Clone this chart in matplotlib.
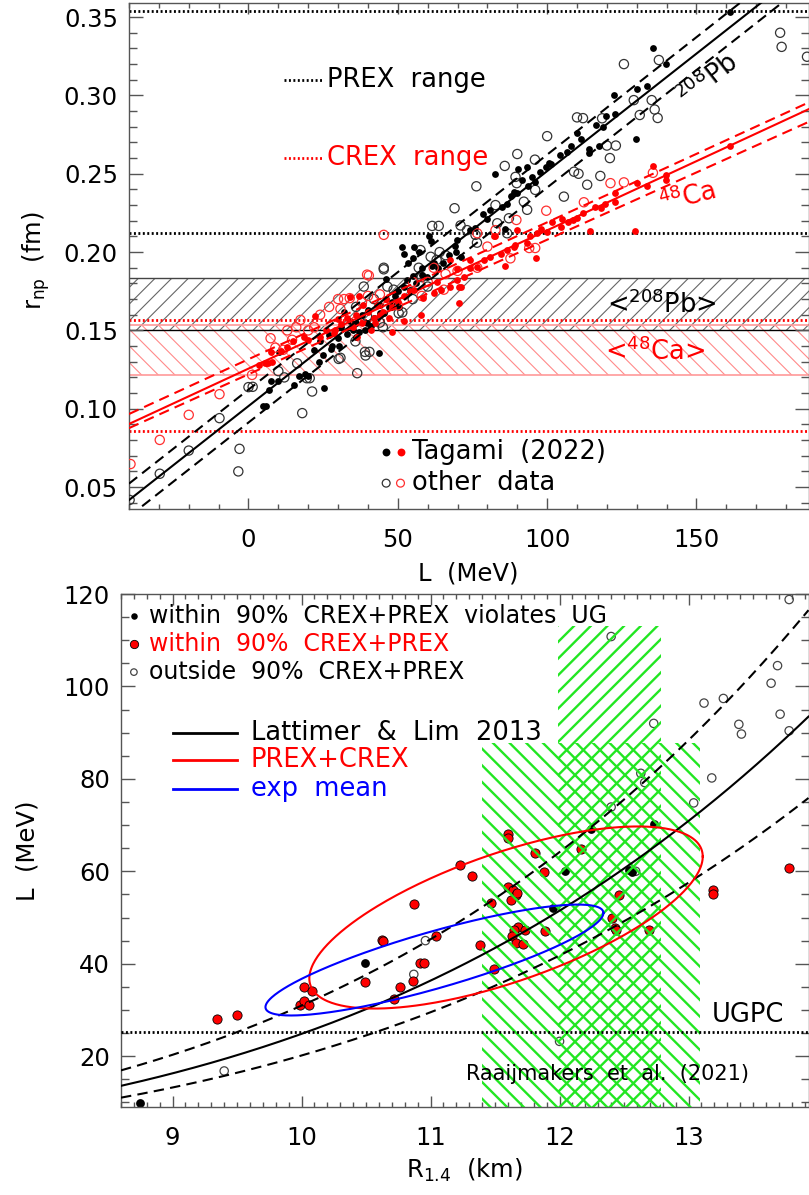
import numpy as np
import matplotlib
matplotlib.use('Agg')
import matplotlib.pyplot as plt
from matplotlib.patches import Rectangle
from matplotlib.ticker import MultipleLocator

plt.rcParams['font.family'] = ['DejaVu Sans']
plt.rcParams['mathtext.fontset'] = 'dejavusans'

# ---------------- upper panel: r_np vs L ----------------
# (L [MeV], r_np [fm])
pb_tagami = [
    (161.1, 0.353), (135.4, 0.330), (139.8, 0.320), (130.1, 0.304), (133.3, 0.306),
    (122.5, 0.300), (119.8, 0.287), (122.6, 0.288), (116.2, 0.281), (118.6, 0.280),
    (117.3, 0.268), (111.2, 0.272), (108.0, 0.268), (114.0, 0.266), (114.0, 0.263),
    (129.6, 0.272), (104.2, 0.262), (101.3, 0.256), (99.5, 0.254), (97.5, 0.251),
    (94.8, 0.248), (93.3, 0.254), (90.2, 0.253), (82.7, 0.250), (91.5, 0.246),
    (93.5, 0.242), (90.0, 0.238), (88.0, 0.236), (86.6, 0.231), (85.0, 0.229),
    (81.0, 0.227), (79.7, 0.221), (78.5, 0.224), (76.0, 0.2155), (74.3, 0.214),
    (69.9, 0.208), (71.0, 0.197), (86.0, 0.215), (60.4, 0.210), (61.0, 0.207),
    (55.4, 0.2035), (51.5, 0.2035), (52.0, 0.199), (53.5, 0.193), (55.0, 0.196),
    (62.0, 0.193), (65.0, 0.193), (63.5, 0.190), (59.8, 0.184), (69.3, 0.204),
    (69.5, 0.200), (67.0, 0.198), (61.5, 0.191), (58.1, 0.1855), (54.2, 0.176),
    (50.3, 0.1652), (44.2, 0.161), (39.7, 0.1546), (88.8, 0.2386), (96.0, 0.245),
    (100.5, 0.2567), (106.5, 0.264), (110.0, 0.276),
    (38.0, 0.160), (40.0, 0.163), (42.0, 0.158), (44.0, 0.166), (45.5, 0.161),
    (46.0, 0.170), (47.0, 0.165), (48.0, 0.168), (49.0, 0.172), (50.0, 0.175),
    (41.0, 0.153), (39.0, 0.150), (36.0, 0.155), (35.0, 0.150), (33.0, 0.148),
    (34.0, 0.156), (30.0, 0.145), (31.0, 0.152), (28.0, 0.140), (27.5, 0.138),
    (30.2, 0.140), (21.9, 0.1376), (23.5, 0.130), (25.0, 0.1345), (25.2, 0.1135),
    (15.2, 0.1152), (17.0, 0.121), (19.0, 0.122), (20.0, 0.121), (6.0, 0.1015),
    (5.0, 0.102), (7.0, 0.112), (7.4, 0.118), (10.0, 0.118), (10.1, 0.1364),
    (43.6, 0.1355), (36.0, 0.146), (37.0, 0.149), (52.0, 0.178), (53.0, 0.182),
    (55.0, 0.185), (56.0, 0.180), (58.0, 0.190), (57.0, 0.200), (46.0, 0.183),
    (27.0, 0.147), (32.0, 0.162), (24.0, 0.143),
]
pb_other = [
    (178.0, 0.340), (178.5, 0.331), (187.0, 0.3247), (137.4, 0.3226), (125.7, 0.320),
    (135.0, 0.297), (136.0, 0.291), (137.0, 0.2856), (131.0, 0.2875), (129.0, 0.297),
    (118.4, 0.2854), (110.0, 0.286), (112.0, 0.2855), (100.0, 0.274), (90.0, 0.2626),
    (85.8, 0.255), (95.9, 0.259), (89.4, 0.248), (89.8, 0.244), (109.0, 0.2513),
    (110.5, 0.250), (117.8, 0.2486), (113.4, 0.243), (120.0, 0.268), (123.0, 0.268),
    (121.0, 0.260), (105.6, 0.2354), (76.3, 0.242), (69.0, 0.228), (61.5, 0.2167),
    (63.7, 0.2167), (96.0, 0.2397), (92.2, 0.2322), (93.3, 0.227), (87.2, 0.2216),
    (83.3, 0.2184), (76.0, 0.211), (76.5, 0.206), (86.6, 0.212), (57.6, 0.2013),
    (82.7, 0.230), (71.0, 0.217), (73.2, 0.214), (64.0, 0.200), (66.0, 0.198),
    (61.0, 0.197), (63.0, 0.195), (57.0, 0.190), (58.0, 0.184), (45.3, 0.190),
    (46.5, 0.178), (48.6, 0.176), (50.3, 0.161), (44.0, 0.155), (45.0, 0.152),
    (39.7, 0.159), (38.6, 0.178), (35.8, 0.143), (39.2, 0.134), (30.8, 0.1325),
    (16.3, 0.129), (-39.8, 0.0418), (-29.7, 0.0585), (-20.0, 0.0733), (-9.7, 0.094),
    (-3.0, 0.0744), (-3.4, 0.060), (0.0, 0.1138), (1.4, 0.114), (18.0, 0.0972),
    (21.3, 0.111), (36.4, 0.1227), (30.2, 0.1318), (39.0, 0.1363), (40.5, 0.1363),
    (51.5, 0.1615), (10.0, 0.124), (12.0, 0.120), (19.5, 0.1195), (20.5, 0.1195),
    (45.3, 0.189), (42.0, 0.170), (36.0, 0.165), (55.0, 0.170), (60.0, 0.178),
]
ca_tagami = [
    (161.1, 0.268), (135.4, 0.255), (139.8, 0.249), (139.8, 0.246), (133.3, 0.2424),
    (130.1, 0.2439), (122.6, 0.238), (122.6, 0.232), (119.5, 0.231), (118.0, 0.228),
    (116.0, 0.229), (114.3, 0.2136), (129.3, 0.2136), (112.0, 0.2248), (108.8, 0.2205),
    (107.0, 0.2194), (104.5, 0.216), (101.7, 0.2194), (100.0, 0.213), (96.7, 0.212),
    (94.4, 0.210), (93.3, 0.2056), (90.0, 0.214), (88.8, 0.2035), (86.6, 0.2013),
    (84.4, 0.199), (82.7, 0.210), (82.1, 0.2103), (81.0, 0.197), (78.8, 0.195),
    (76.6, 0.1907), (74.3, 0.190), (74.3, 0.195), (72.1, 0.1843), (69.9, 0.182),
    (69.9, 0.189), (67.6, 0.178), (67.6, 0.195), (64.3, 0.176), (63.2, 0.181),
    (62.0, 0.1737), (70.4, 0.178), (71.0, 0.178), (70.4, 0.1674), (55.4, 0.176),
    (58.6, 0.171), (57.6, 0.160), (52.0, 0.1563), (96.4, 0.196), (86.0, 0.191),
    (89.4, 0.2045), (110.0, 0.222), (105.0, 0.221), (98.0, 0.215),
    (7.4, 0.1364), (6.7, 0.1294), (5.5, 0.129), (8.0, 0.130), (12.9, 0.1397),
    (18.5, 0.146), (22.4, 0.159), (28.6, 0.1482), (34.1, 0.1716), (31.0, 0.154),
    (33.0, 0.158), (35.0, 0.152), (36.0, 0.160), (38.0, 0.155), (40.0, 0.162),
    (42.0, 0.158), (43.0, 0.166), (45.0, 0.162), (46.0, 0.170), (48.0, 0.165),
    (50.0, 0.168), (52.0, 0.172), (44.0, 0.160), (41.0, 0.150), (38.5, 0.166),
    (36.5, 0.146), (29.0, 0.150), (26.0, 0.150), (24.0, 0.146), (20.0, 0.144),
    (15.0, 0.143), (11.0, 0.137), (48.0, 0.149), (54.0, 0.175), (37.0, 0.172),
    (3.5, 0.128), (30.0, 0.157), (42.5, 0.155), (47.0, 0.158),
]
ca_other = [
    (-39.5, 0.0647), (-29.7, 0.0801), (-20.0, 0.0961), (-9.7, 0.1093), (1.2, 0.1216),
    (11.6, 0.1376), (9.0, 0.139), (14.6, 0.144), (7.4, 0.145), (13.0, 0.150),
    (17.4, 0.1567), (24.0, 0.160), (27.0, 0.165), (30.0, 0.170), (32.0, 0.170),
    (30.8, 0.1637), (33.9, 0.1706), (39.7, 0.1856), (40.0, 0.172), (38.0, 0.168),
    (44.0, 0.173), (46.0, 0.165), (36.0, 0.156), (20.0, 0.150), (16.0, 0.152),
    (22.0, 0.152), (135.4, 0.2506), (125.7, 0.2445), (121.2, 0.244), (112.3, 0.2318),
    (99.7, 0.2264), (89.7, 0.2205), (82.7, 0.214), (76.6, 0.212), (96.0, 0.2026),
    (94.0, 0.2026), (87.7, 0.196), (76.6, 0.190), (80.0, 0.2035), (65.4, 0.176),
    (60.0, 0.181), (55.0, 0.181), (70.0, 0.188), (58.0, 0.172), (50.0, 0.166),
    (62.0, 0.190), (66.0, 0.186), (45.3, 0.211), (40.3, 0.185),
]

# linear fits r_np = a + b*L  (central, upper, lower)
pb_fit = {'mid': (0.1017, 0.00150), 'up': (0.1122, 0.00150), 'lo': (0.0912, 0.00150)}
ca_fit = {'mid': (0.1256, 0.000883), 'up': (0.1316, 0.000874), 'lo': (0.1220, 0.000859)}

prex_range = (0.212, 0.354)
crex_range = (0.0855, 0.1565)
pb_mean_band = (0.150, 0.1834)
ca_mean_band = (0.1217, 0.1534)

# ---------------- lower panel: L vs R_1.4 ----------------
# (R_1.4 [km], L [MeV])
violates_ug = [(8.747, 9.9), (10.49, 40.1), (12.24, 69.2), (12.73, 70.3), (12.04, 60.0),
               (12.54, 60.3), (12.56, 59.8), (11.95, 52.0)]
within_90 = [
    (9.347, 28.0), (9.497, 29.0), (9.985, 31.0), (10.02, 35.0), (10.02, 32.0),
    (10.06, 31.0), (10.08, 34.0), (10.49, 36.0), (10.62, 45.2), (10.87, 53.0),
    (10.86, 36.3), (10.76, 34.9), (10.72, 32.4), (10.92, 40.1), (10.95, 40.1),
    (11.60, 68.1), (11.60, 67.2), (11.23, 61.4), (11.32, 59.0), (11.81, 64.0),
    (12.17, 64.8), (11.88, 59.8), (11.60, 56.6), (11.64, 55.9), (11.66, 54.8),
    (11.62, 53.8), (11.67, 55.3), (11.47, 53.1), (12.46, 54.9), (12.41, 50.0),
    (12.43, 47.8), (12.44, 47.3), (12.69, 47.3), (13.19, 56.0), (13.19, 55.1),
    (11.68, 48.0), (11.65, 47.3), (11.73, 47.3), (11.63, 45.9), (11.66, 44.5),
    (11.72, 44.3), (11.89, 47.1), (11.38, 44.0), (11.04, 45.9), (10.63, 45.0),
    (11.49, 38.9), (13.78, 60.7),
]
outside_90 = [
    (9.40, 16.8), (10.87, 37.7), (10.96, 45.0), (12.00, 23.2), (12.40, 110.8),
    (13.78, 118.8), (13.69, 104.5), (13.64, 100.7), (13.71, 94.0), (13.78, 90.4),
    (13.39, 91.8), (13.41, 89.7), (13.27, 97.4), (13.12, 96.4), (12.73, 92.0),
    (13.18, 80.2), (13.04, 74.8), (12.63, 81.2), (12.66, 79.2), (12.40, 73.9),
    (12.59, 60.0),
]

# Lattimer & Lim: R_1.4 = C * L^(1/4)
ll_coef = {'mid': 4.48, 'up': 4.24, 'lo': 4.72}
# ellipses: R = cx + rx cos t, L = cy + ry sin(t + phi)
ell_prexcrex = dict(cx=11.585, rx=1.525, cy=50.0, ry=19.7, phi=42.0)
ell_expmean = dict(cx=11.03, rx=1.31, cy=40.8, ry=12.0, phi=58.0)
ugpc_L = 25.3
raaij_wide = (11.40, 13.09, 87.8)    # R min, R max, L top
raaij_narrow = (11.99, 12.79, 113.1)

dotted = (0, (0.7, 0.9))
dashed = (0, (5, 3))
tick_fs = 17.5
label_fs = 18.5
green = '#22e622'


def style_axes(ax):
    for s in ax.spines.values():
        s.set_color('#555555')
        s.set_linewidth(1.0)
    ax.tick_params(which='both', direction='in', top=True, right=True,
                   color='#555555', width=1.0, labelsize=tick_fs)
    ax.tick_params(axis='y', which='major', length=10, pad=8)
    ax.tick_params(axis='y', which='minor', length=5.5)
    ax.tick_params(axis='x', which='major', length=8, pad=14)
    ax.tick_params(axis='x', which='minor', length=3.8)


fig = plt.figure(figsize=(8.09, 11.95), dpi=100)
ax1 = fig.add_axes([129 / 809, 1 - 509 / 1195, 679.5 / 809, 506 / 1195])
ax2 = fig.add_axes([121 / 809, 1 - 1107 / 1195, 687.5 / 809, 513 / 1195])

# ---- upper panel ----
ax1.set_xlim(-40, 187.5)
ax1.set_ylim(0.036, 0.359)
ax1.xaxis.set_major_locator(MultipleLocator(50))
ax1.xaxis.set_minor_locator(MultipleLocator(10))
ax1.yaxis.set_major_locator(MultipleLocator(0.05))
ax1.yaxis.set_minor_locator(MultipleLocator(0.01))
ax1.yaxis.set_major_formatter(plt.FormatStrFormatter('%.2f'))
style_axes(ax1)

plt.rcParams['hatch.linewidth'] = 0.8
band_pb = ax1.axhspan(*pb_mean_band, facecolor='none', edgecolor='#666666', hatch='//',
                      lw=0, zorder=1)
band_ca = ax1.axhspan(*ca_mean_band, facecolor='none', edgecolor='#ff8a8a', hatch='\\\\',
                      lw=0, zorder=1)
for p in (band_pb, band_ca):
    if hasattr(p, 'set_hatch_linewidth'):
        p.set_hatch_linewidth(0.8)
ax1.axhline(pb_mean_band[1], color='#444444', lw=1.0, zorder=1)
ax1.axhline(pb_mean_band[0], color='black', lw=1.0, zorder=1)
for y in ca_mean_band:
    ax1.axhline(y, color='#ff9a9a', lw=1.2, zorder=1)
for y in prex_range:
    ax1.axhline(y, color='black', lw=2.0, ls=dotted, zorder=2)
for y in crex_range:
    ax1.axhline(y, color='red', lw=2.0, ls=dotted, zorder=2)

pbt = np.array(pb_tagami)
pbo = np.array(pb_other)
cat = np.array(ca_tagami)
cao = np.array(ca_other)
ax1.scatter(pbo[:, 0], pbo[:, 1], s=44, facecolors='none', edgecolors='#333333',
            linewidths=0.9, zorder=3)
ax1.scatter(pbt[:, 0], pbt[:, 1], s=24, color='black', lw=0, zorder=3)
ax1.scatter(cao[:, 0], cao[:, 1], s=44, facecolors='none', edgecolors='#ff3030',
            linewidths=0.9, zorder=3)
ax1.scatter(cat[:, 0], cat[:, 1], s=24, color='red', lw=0, zorder=3)

Lx = np.array(ax1.get_xlim())
for key, ls in (('mid', '-'), ('up', dashed), ('lo', dashed)):
    a, b = pb_fit[key]
    ax1.plot(Lx, a + b * Lx, color='black', lw=1.5, ls=ls, zorder=4)
    a, b = ca_fit[key]
    ax1.plot(Lx, a + b * Lx, color='red', lw=1.5, ls=ls, zorder=4)

ax1.plot([11.8, 25.2], [0.3098, 0.3098], color='black', lw=2.0, ls=dotted)
ax1.text(26.3, 0.3098, 'PREX  range', fontsize=label_fs, va='center', ha='left')
ax1.plot([11.8, 25.2], [0.260, 0.260], color='red', lw=2.0, ls=dotted)
ax1.text(26.3, 0.260, 'CREX  range', fontsize=label_fs, va='center', ha='left', color='red')
ax1.text(154, 0.3098, r'$^{208}$Pb', fontsize=label_fs, rotation=38, ha='center',
         va='center')
ax1.text(147.3, 0.2345, r'$^{48}$Ca', fontsize=label_fs, rotation=15, ha='center',
         va='center', color='red')
ax1.text(138.3, 0.1663, r'<$^{208}$Pb>', fontsize=label_fs, ha='center', va='center')
ax1.text(136.3, 0.1363, r'<$^{48}$Ca>', fontsize=label_fs, ha='center', va='center',
         color='red')

ax1.scatter([46.1], [0.0727], s=32, color='black', lw=0)
ax1.scatter([50.9], [0.0727], s=32, color='red', lw=0)
ax1.text(54.8, 0.0727, 'Tagami  (2022)', fontsize=label_fs, va='center', ha='left')
ax1.scatter([46.1], [0.0525], s=32, facecolors='none', edgecolors='#333333', lw=0.9)
ax1.scatter([50.9], [0.0525], s=32, facecolors='none', edgecolors='#ff3030', lw=0.9)
ax1.text(54.8, 0.0525, 'other  data', fontsize=label_fs, va='center', ha='left')

ax1.text(0.5, -0.1265, 'L  (MeV)', fontsize=17.5, ha='center', va='center',
         transform=ax1.transAxes)
ax1.text(-0.137, 0.492, r'r$_\mathregular{np}$  (fm)', fontsize=17.5, ha='center',
         va='center', rotation=90, transform=ax1.transAxes)

# ---- lower panel ----
ax2.set_xlim(8.6, 13.93)
ax2.set_ylim(9, 120)
ax2.xaxis.set_major_locator(MultipleLocator(1))
ax2.xaxis.set_minor_locator(MultipleLocator(0.1))
ax2.yaxis.set_major_locator(MultipleLocator(20))
ax2.yaxis.set_minor_locator(MultipleLocator(5))
style_axes(ax2)

vio = np.array(violates_ug)
win = np.array(within_90)
out = np.array(outside_90)
ax2.scatter(out[:, 0], out[:, 1], s=36, facecolors='none', edgecolors='#444444',
            linewidths=0.9, zorder=2)
ax2.scatter(win[:, 0], win[:, 1], s=44, color='red', edgecolors='black', linewidths=0.6,
            zorder=2)
ax2.scatter(vio[:, 0], vio[:, 1], s=40, color='black', lw=0, zorder=2)

plt.rcParams['hatch.linewidth'] = 1.7
r0, r1, ltop = raaij_wide
wide = Rectangle((r0, 9), r1 - r0, ltop - 9, facecolor='none', edgecolor=green,
                 hatch='\\\\', lw=0, zorder=3)
r0, r1, ltop = raaij_narrow
narrow = Rectangle((r0, 9), r1 - r0, ltop - 9, facecolor='none', edgecolor=green,
                   hatch='//', lw=0, zorder=3)
for p in (wide, narrow):
    if hasattr(p, 'set_hatch_linewidth'):
        p.set_hatch_linewidth(1.7)
    ax2.add_patch(p)

Rx = np.linspace(8.6, 13.93, 200)
for key, ls in (('mid', '-'), ('up', dashed), ('lo', dashed)):
    ax2.plot(Rx, (Rx / ll_coef[key]) ** 4, color='black', lw=1.5, ls=ls, zorder=4)

t = np.linspace(0, 2 * np.pi, 400)
for e, c in ((ell_prexcrex, 'red'), (ell_expmean, 'blue')):
    ax2.plot(e['cx'] + e['rx'] * np.cos(t),
             e['cy'] + e['ry'] * np.sin(t + np.radians(e['phi'])), color=c, lw=1.5, zorder=4)

ax2.axhline(ugpc_L, color='black', lw=2.0, ls=dotted, zorder=4)
ax2.text(13.46, 28.9, 'UGPC', fontsize=label_fs, ha='center', va='center')
ax2.text(12.37, 16.2, 'Raaijmakers  et  al.  (2021)', fontsize=15, ha='center',
         va='center', zorder=5)

legend_fs = 17
ax2.scatter([8.70], [115.3], s=22, color='black', lw=0)
ax2.text(8.816, 115.3, 'within  90%  CREX+PREX  violates  UG', fontsize=legend_fs,
         va='center')
ax2.scatter([8.70], [109.2], s=36, color='red', edgecolors='black', linewidths=0.6)
ax2.text(8.816, 109.2, 'within  90%  CREX+PREX', fontsize=legend_fs, va='center',
         color='red')
ax2.scatter([8.70], [103.1], s=22, facecolors='none', edgecolors='#444444', linewidths=0.9)
ax2.text(8.816, 103.1, 'outside  90%  CREX+PREX', fontsize=legend_fs, va='center')

for yv, lab, c in ((90.0, 'Lattimer  &  Lim  2013', 'black'), (84.0, 'PREX+CREX', 'red'),
                   (77.9, 'exp  mean', 'blue')):
    ax2.plot([9.0, 9.5], [yv, yv], color=c, lw=2.0)
    ax2.text(9.605, yv, lab, fontsize=label_fs, va='center', color=c)

ax2.text(0.5, -0.1228, r'R$_\mathregular{1.4}$  (km)', fontsize=17.5, ha='center',
         va='center', transform=ax2.transAxes)
ax2.text(-0.1354, 0.5, 'L  (MeV)', fontsize=17.5, ha='center', va='center', rotation=90,
         transform=ax2.transAxes)

fig.savefig('out.png', dpi=100)
